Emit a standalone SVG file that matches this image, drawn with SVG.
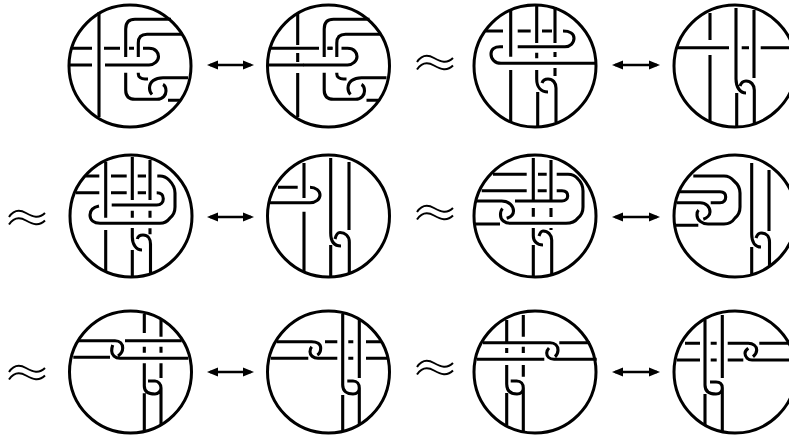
<svg xmlns="http://www.w3.org/2000/svg" width="789" height="438" viewBox="0 0 789 438">
<style>
path,circle{fill:none;stroke:#000;stroke-width:3.1}
circle{stroke-width:3}
.a{stroke-width:2.4;marker-start:url(#h);marker-end:url(#h)}
.w{stroke-width:2}
</style>
<defs>
<marker id="h" markerUnits="userSpaceOnUse" markerWidth="12" markerHeight="12" refX="8" refY="6" orient="auto-start-reverse"><polygon points="0,1.500 11,6 0,10.500" fill="#000"/></marker>
<path id="core" d="M125.700 57V29Q125.700 19.300 135 19.300H171M138.300 57V43Q138.300 34.300 147 34.300H183M129 48.300H134M143 48.300H149C156 48.300 158.500 53 158.500 56.500C158.500 61 154 65 149 65H105M125.700 72.700V90Q125.700 99.300 135 99.300H157C163 99.300 166 95 166 91C166 88 165 85.500 163 84.500M138.300 72.700V74C138.300 77 141 79 145 79H148M188 77.700H163C155 77.700 149.500 82 149.500 88C149.500 91 150.500 93 152 94.500M168 100.300H180"/>
<g id="wave"><path class="w" d="M9 217C13 211 19 209 26 213C33 217 39 219 45 213"/><path class="w" d="M9 224.500C13 218.500 19 216.500 26 220.500C33 224.500 39 226.500 45 220.500"/></g>
</defs>
<g id="n1"><circle cx="130" cy="66" r="61"/><use href="#core"/><path d="M99 12V117M71 48.300H92M104 48.300H120M70 65H92"/></g>
<g id="n2"><circle cx="328.500" cy="66" r="61"/><use href="#core" x="198.500"/><path d="M297.700 13V45M297.700 53V62M297.700 73V117M270 48.300H319M327.500 48.300H332.500M269 65H304"/></g>
<g id="n3"><circle cx="535" cy="66" r="61"/><path d="M510.700 10V56.700M510.700 70V121M536.700 5V43M536.700 52.700V58.300M536.700 70V79C536.700 87 541 92 548 92M537.700 92V126M555 7V43M555 52V57M555 68V76M542 83C543 80 545 79 548 79C553 79 556 83 556 88V122M485.700 31H503M517.700 31H530.700M542 31H552M563 31C570 31 574 34 574 38.300C574 43 570 46.700 565 46.700H517.700M503 46.700H500C495 46.700 491 49 491 54C491 59 495 63.300 501 63.300H596"/></g>
<g id="n4"><circle cx="735" cy="66" r="61"/><path d="M710 13V40M710 55V121M736 8V79C736 87 740 93 746 93M736.700 93V127M754 10V78M740 86C741 83 743 81 746 81C751 81 754.300 85 754.300 90V123M677 47.700H729M741.700 47.700H749M760.700 47.700H790"/></g>
<g id="n5"><circle cx="131" cy="216" r="61"/><path d="M105.700 161.700V217.700M105.700 230V271.500M132.300 157V200M132.300 210.700V217.700M132.300 228V237C132.300 244 136 250 142 250M132.300 250V277M150 160V200M150 210.700V217.700M150 228.300V234.300M137.300 239C138 236 140 235 143 235C148 235 150.500 239 150.500 244V273M85.700 176H99.300M111 176H126.700M137.700 176H146M157.300 176H160Q165 176 169 180Q175 186 175 193V207Q175 214 170 218Q166 223.300 160 223.300H100C94 223.300 90 220 90 215C90 210 94 207 99 206M76 192.700H99.300M111 192.700H126.700M137.700 192.700H146M156.700 192.700C161 192.700 163.300 195 163.300 198.700C163.300 202 161 205 156.700 205H111.700"/></g>
<g id="n6"><circle cx="328.500" cy="216" r="61"/><path d="M304 163V198M304 211.700V272M330.700 158V233C330.700 241 334 246 341 246M330.700 245V277M349 162V230M335 239C336 235 337 232.500 340 232.500C345 232.500 349.300 236 349.300 242V273M278 187.300H297.700M310 187.300C316 187.300 320 191 320 195C320 199 316 202.700 310 202.700H270"/></g>
<g id="n7"><circle cx="535" cy="216" r="61"/><path d="M533.300 158V200M533.300 208V216.700M533.300 228V236C533.300 241 537 245 543 245M533.300 245V277M551 160V200M551 208V217M551 228V230M539 236C540 233 541 231 543 231C548 231 551.700 235 551.700 240V274.500M493 174.300H526.700M538 174.300H546.700M556.700 174.300H568Q574 174.300 578 179Q583 184 583 191V207Q583 214 578 218Q574 223.300 566 223.300H510C505 223.300 500.500 220 500.500 215C500.500 212 501 210 502.500 208.500M481.700 190.700H526.700M537.700 190.700H546.700M556.700 190.700H562C566 190.700 567.700 193 567.700 196C567.700 199 565 201 562 201H515M476.700 201H501.700C509 201 513.500 206 513.500 211C513.500 214 511 217 506.700 218.300M475 224H500"/></g>
<g id="n8"><circle cx="735" cy="216" r="61"/><path d="M751.700 163V234C751.700 242 755 247 761 247M751.700 247V275M769 170V231M756 238C757 235 758.500 233 761 233C766 233 769.500 236 769.500 242V266M693.300 176H724Q730 176 734 181Q740 186 740 193V207Q740 214 735 218Q731 224 724 224H708C702 224 697 220 697 215C697 213 697.500 211 698.500 210M680 191.700H720C724 191.700 725.700 194 725.700 197C725.700 200 724 202.700 720 202.700H710.700M676.700 202.700H700C706 202.700 710 207 710 212C710 215 707 218 703.300 219.300M674 225.300H698.300"/></g>
<g id="n9"><circle cx="130.500" cy="372" r="61"/><path d="M144.300 314V333M144.300 346.700V352.700M144.300 363.300V386C144.300 391 148 394 155 394C158 394 161 391 161 388C161 384 158 381 155 381H148M144.300 393.300V431M161 320V336.700M161 346.700V352.700M161 363.300V378M161 388V425M78 340.700H115C120 340.700 122.700 344 122.700 348C122.700 351 121 354 118 356M125 340.700H181.700M112.700 345C112 347 111.700 349 111.700 351C111.700 355 115 358.300 120 358.300H188.300M73.300 357.300H110"/></g>
<g id="n10"><circle cx="328.500" cy="372" r="61"/><path d="M342.700 314V385C342.700 391 347 394 353 394C357 394 359.300 391 359.300 388C359.300 384 357 381 353 381H347.300M342.700 395V431M359.300 320V378M359.300 388V425M276.700 341.700H311.700C317 341.700 320.700 344 320.700 348C320.700 351 319 354 317.300 355M325 341.700H337.300M348.300 341.700H353.300M366 341.700H381.700M270.700 358.300H308.300M311.700 346.700C310.500 348 310 350 310 351.700C310 355 313 358.300 318 358.300H337.300M348.300 358.300H353.300M366 358.300H388.300"/></g>
<g id="n11"><circle cx="535" cy="372" r="61"/><path d="M506.700 320V343M506.700 348V353M506.700 365V384C506.700 390 510 394 517 394C521 394 523.300 391 523.300 388C523.300 384 521 381 516.700 381H510.700M506.700 393V425M523.300 315V336.700M523.300 346.700V353M523.300 365V376.700M523.300 388V431M483 342.700H550C555 342.700 558 346 558 350C558 353 557 355 555 356.700M559.300 342.700H590M476.700 359.300H544.300M549 348C547.500 349.500 546.700 351 546.700 353C546.700 356 549 359.300 554 359.300H596.700"/></g>
<g id="n12"><circle cx="735" cy="372" r="61"/><path d="M705 320V385C705 391 709 394 716 394C720 394 722.300 391 722.300 388C722.300 384 720 382 716 382H710M705 394V425.500M722.300 315V378M722.300 388V432M685 343.300H700M710.700 343.300H716.700M727.700 343.300H748.300C753 343.300 756.700 346 756.700 350C756.700 353 755 355 753 356.700M759.300 343.300H790M676.700 360H700M710.700 360H716.700M727.700 360H743.300M748.300 348.300C746 350 745 351.500 745 353.300C745 357 748 360 752 360H790"/></g>
<g id="connectors">
<path class="a" d="M210 65H251"/><path class="a" d="M615 65H657"/>
<path class="a" d="M210 217H251"/><path class="a" d="M615 217H657"/>
<path class="a" d="M210 372H251"/><path class="a" d="M615 372H657"/>
</g>
<g id="approx">
<use href="#wave" x="408" y="-155"/><use href="#wave"/><use href="#wave" x="408" y="-5"/><use href="#wave" y="155"/><use href="#wave" x="408" y="150"/>
</g>
</svg>
